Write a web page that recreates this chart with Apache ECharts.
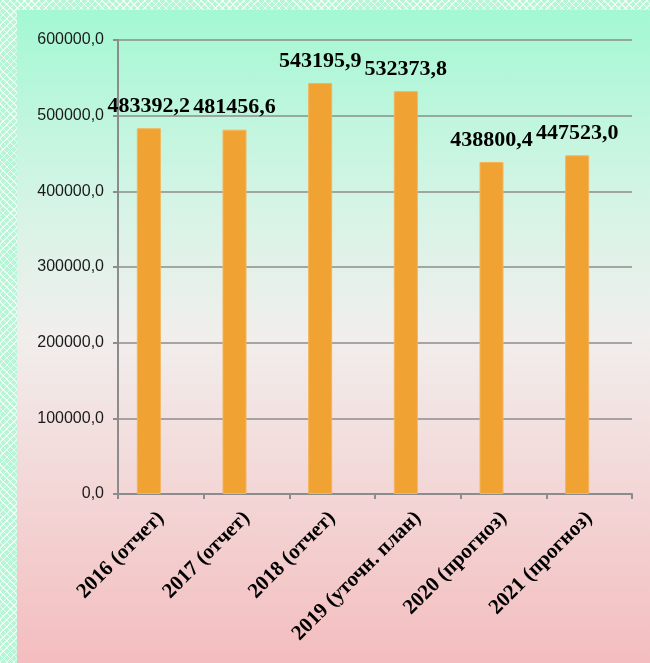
<!DOCTYPE html>
<html>
<head>
<meta charset="utf-8">
<script src="https://cdn.jsdelivr.net/npm/echarts@6/dist/echarts.min.js"></script>
<style>
  html, body { margin: 0; padding: 0; }
  body {
    width: 650px; height: 663px; position: relative; overflow: hidden;
    background-color: #b6f5d6;
    background-image:
      repeating-linear-gradient(45deg, rgba(255,255,255,0.75) 0 1px, transparent 1px 5px),
      repeating-linear-gradient(-45deg, rgba(255,255,255,0.75) 0 1px, transparent 1px 5px);
  }
  #chart {
    position: absolute; left: 17px; top: 10px; width: 633px; height: 653px;
    background: linear-gradient(to bottom, #a3f8d3 0%, #d6f4e6 30%, #f1eeec 50%, #f3d8d8 72%, #f4bdbf 100%);
  }
</style>
</head>
<body>
<div id="chart"></div>
<script>
// категории и значения
const categories = ['2016 (отчет)', '2017 (отчет)', '2018 (отчет)', '2019 (уточн. план)', '2020 (прогноз)', '2021 (прогноз)']
const values = [483392.2, 481456.6, 543195.9, 532373.8, 438800.4, 447523.0]
const yTicks = [0, 100000, 200000, 300000, 400000, 500000, 600000]

const fmt = v => v.toFixed(1).replace('.', ',')

const chart = echarts.init(document.getElementById('chart'))
chart.setOption({
  animation: false,
  grid: {
    left: 101,
    top: 30,
    right: 18,
    bottom: 169
  },
  xAxis: {
    type: 'category',
    data: categories,
    axisLine: { lineStyle: { color: '#8c8c8c', width: 2 } },
    axisTick: { show: true, length: 5, lineStyle: { color: '#8c8c8c', width: 2 } },
    axisLabel: {
      rotate: 45,
      interval: 0,
      margin: 21,
      color: '#000',
      fontFamily: 'Liberation Serif',
      fontWeight: 'bold',
      fontSize: 21
    }
  },
  yAxis: {
    type: 'value',
    min: yTicks[0],
    max: yTicks[yTicks.length - 1],
    interval: 100000,
    axisLine: { show: true, lineStyle: { color: '#8c8c8c', width: 2 } },
    axisTick: { show: true, length: 5, lineStyle: { color: '#8c8c8c', width: 2 } },
    splitLine: { lineStyle: { color: '#8c8c8c', width: 1.5 } },
    axisLabel: {
      margin: 14,
      color: '#1a1a1a',
      fontFamily: 'Liberation Sans',
      fontSize: 16,
      formatter: v => fmt(v)
    }
  },
  series: [
    {
      type: 'bar',
      data: values,
      barWidth: 24,
      barGap: '0%',
      itemStyle: { color: '#f0a232', borderColor: '#f4b45a', borderWidth: 1 },
      label: {
        show: true,
        position: 'top',
        distance: 11,
        color: '#000',
        fontFamily: 'Liberation Serif',
        fontWeight: 'bold',
        fontSize: 22,
        formatter: p => fmt(p.value)
      }
    },
    {
      // пустой ряд, как в исходной диаграмме: сдвигает столбцы влево
      type: 'bar',
      data: categories.map(() => '-'),
      barWidth: 24,
      barGap: '0%'
    }
  ]
})
</script>
</body>
</html>
